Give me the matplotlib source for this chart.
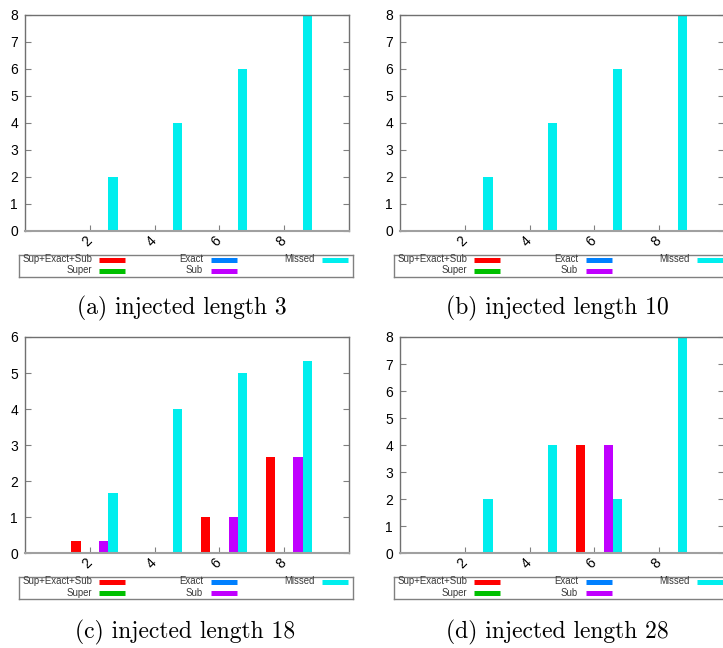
import matplotlib
matplotlib.use("Agg")
import matplotlib.pyplot as plt

plt.rcParams['font.family'] = ['Liberation Sans', 'DejaVu Sans']

# ---------------- data ----------------
categories = [2, 4, 6, 8]
series_names = ["Sup+Exact+Sub", "Super", "Exact", "Sub", "Missed"]
series_colors = ["#ff0000", "#00c000", "#0080ff", "#c000ff", "#00eeee"]

# panel (a) injected length 3
a_supexsub = [0, 0, 0, 0]
a_super = [0, 0, 0, 0]
a_exact = [0, 0, 0, 0]
a_sub = [0, 0, 0, 0]
a_missed = [2, 4, 6, 8]

# panel (b) injected length 10
b_supexsub = [0, 0, 0, 0]
b_super = [0, 0, 0, 0]
b_exact = [0, 0, 0, 0]
b_sub = [0, 0, 0, 0]
b_missed = [2, 4, 6, 8]

# panel (c) injected length 18
c_supexsub = [0.33, 0, 1, 2.67]
c_super = [0, 0, 0, 0]
c_exact = [0, 0, 0, 0]
c_sub = [0.33, 0, 1, 2.67]
c_missed = [1.67, 4, 5, 5.33]

# panel (d) injected length 28
d_supexsub = [0, 0, 4, 0]
d_super = [0, 0, 0, 0]
d_exact = [0, 0, 0, 0]
d_sub = [0, 0, 4, 0]
d_missed = [2, 4, 2, 8]

captions = ["(a) injected length 3", "(b) injected length 10",
            "(c) injected length 18", "(d) injected length 28"]
y_max = [8, 8, 6, 8]

panel_data = [
    [a_supexsub, a_super, a_exact, a_sub, a_missed],
    [b_supexsub, b_super, b_exact, b_sub, b_missed],
    [c_supexsub, c_super, c_exact, c_sub, c_missed],
    [d_supexsub, d_super, d_exact, d_sub, d_missed],
]

# ---------------- layout (pixels) ----------------
W, H = 723, 648
fig = plt.figure(figsize=(W / 100, H / 100), dpi=100)


def px_axes(l, t, w, h):
    return fig.add_axes([l / W, 1 - (t + h) / H, w / W, h / H])


AX_W, AX_H = 324, 216.3
panel_pos = [(25, 14.7), (400, 14.7), (25, 337.0), (400, 337.0)]
caption_pos = [(182, 314), (557, 314), (185, 638), (557, 638)]

bar_w = 2 / 7


def draw_legend(ax_left, ax_bottom):
    bl = ax_left - 5.7
    bt = ax_bottom + 23.6
    bw, bh = 333.7, 22.0
    lax = px_axes(bl, bt, bw, bh)
    lax.set_xlim(0, bw)
    lax.set_ylim(bh, 0)
    lax.set_xticks([])
    lax.set_yticks([])
    for s in lax.spines.values():
        s.set_color('#808080')
        s.set_linewidth(1.0)
    text_right = [72.7, 183.7, 295.7]
    sample_start = [79.7, 191.7, 302.7]
    rows = [4.6, 15.8]
    for i, name in enumerate(series_names):
        col, row = i // 2, i % 2
        lax.text(text_right[col], rows[row], name, ha='right', va='center',
                 fontsize=6.9, color='#3a3a3a')
        lax.plot([sample_start[col], sample_start[col] + 26], [rows[row] + 0.5, rows[row] + 0.5],
                 color=series_colors[i], lw=3.6, solid_capstyle='butt')


for p in range(4):
    l, t = panel_pos[p]
    ax = px_axes(l, t, AX_W, AX_H)
    for j, vals in enumerate(panel_data[p]):
        xs = [c + (2 * j - 3) / 7 for c in categories]
        ax.bar(xs, vals, width=bar_w, color=series_colors[j], linewidth=0, zorder=2)
    ax.set_xlim(0, 10)
    ax.set_ylim(0, y_max[p])
    ax.set_xticks(categories)
    ax.set_yticks(range(0, y_max[p] + 1))
    ax.tick_params(axis='y', direction='in', length=4, width=0.8, color='#808080',
                   left=True, right=True, labelsize=10, pad=5.0)
    ax.tick_params(axis='x', direction='in', length=4, width=0.8, color='#808080',
                   bottom=True, top=False, labelsize=10, pad=5.5)
    for lab in ax.get_xticklabels():
        lab.set_rotation(45)
        lab.set_ha('right')
        lab.set_va('center')
        lab.set_rotation_mode('anchor')
    for s in ['left', 'top', 'right']:
        ax.spines[s].set_color('#707070')
        ax.spines[s].set_linewidth(1.0)
    ax.spines['bottom'].set_color('#a0a0a0')
    ax.spines['bottom'].set_linewidth(1.5)
    for s in ax.spines.values():
        s.set_zorder(3)

    draw_legend(l, t + AX_H)

    cx, cy = caption_pos[p]
    fig.text(cx / W, 1 - cy / H, captions[p], ha='center', va='baseline',
             fontfamily='cmr10', fontsize=17, color='#000000')

fig.savefig("out.png", dpi=100)
